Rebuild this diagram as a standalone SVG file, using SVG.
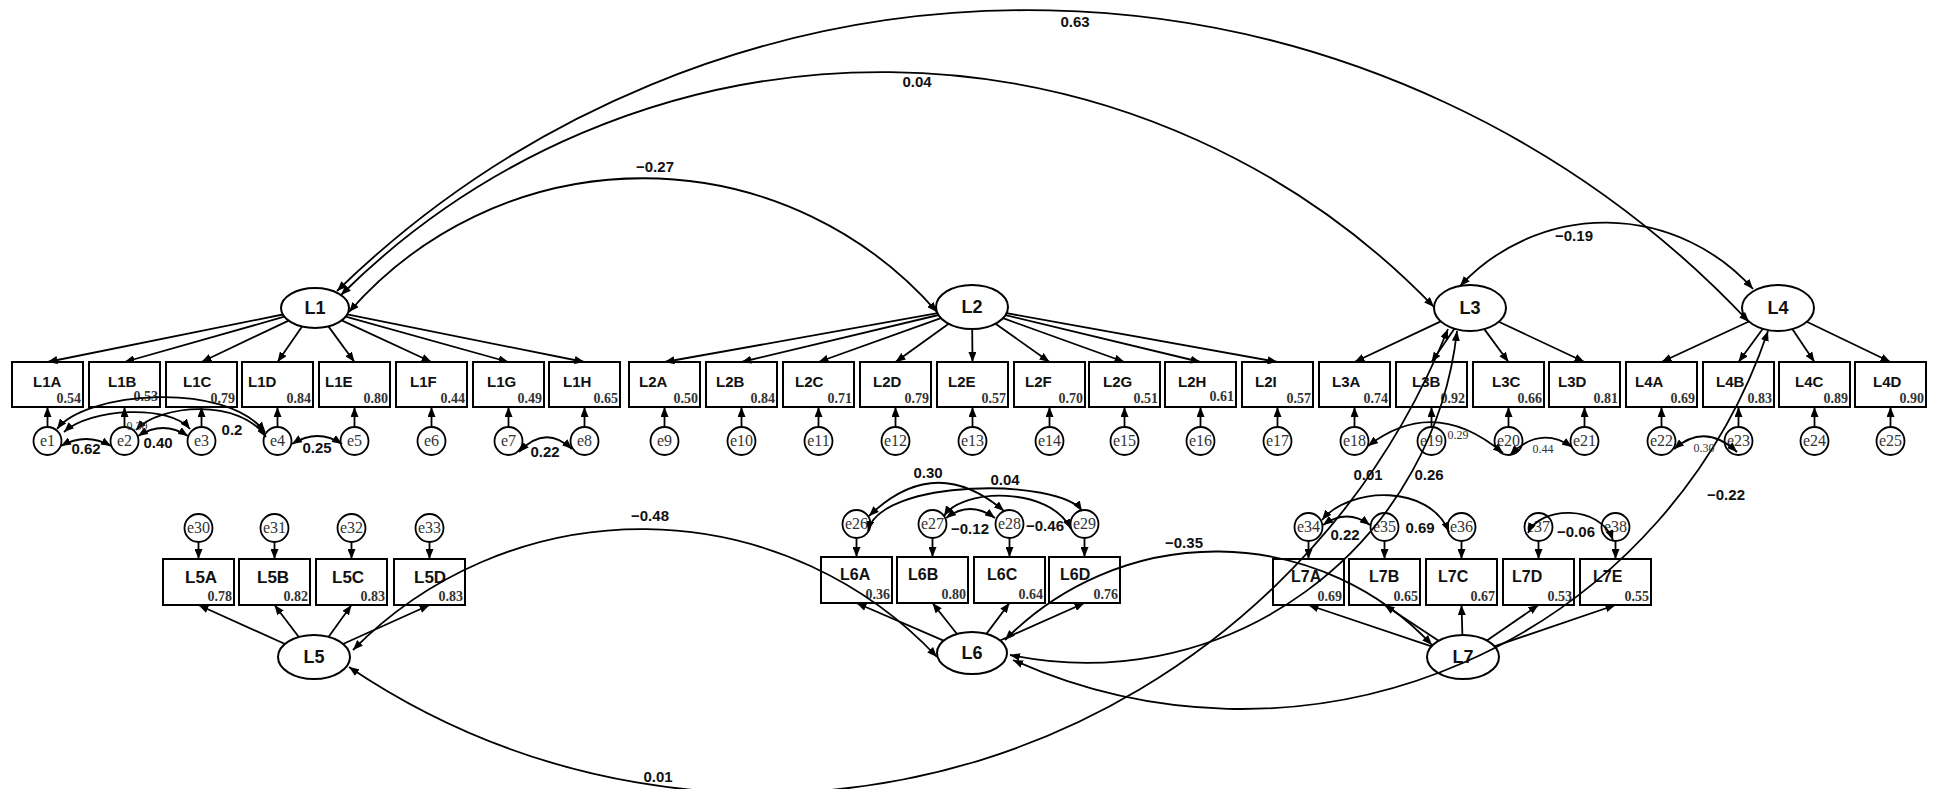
<svg xmlns="http://www.w3.org/2000/svg" width="1937" height="789" viewBox="0 0 1937 789">
<style>
.bx{fill:#fff;stroke:#000;stroke-width:2}
.lv{fill:#fff;stroke:#000;stroke-width:2}
.er{fill:#fff;stroke:#000;stroke-width:1.8}
.t{font-family:"Liberation Sans",Arial,sans-serif;font-weight:bold;font-size:15px;fill:#111}
.t2{font-family:"Liberation Sans",Arial,sans-serif;font-weight:bold;font-size:16px;fill:#111}
.t5{font-family:"Liberation Sans",Arial,sans-serif;font-weight:bold;font-size:17px;fill:#111}
.v{font-family:"Liberation Serif","Times New Roman",serif;font-weight:bold;font-size:14px;fill:#333;text-anchor:end}
.el{font-family:"Liberation Serif","Times New Roman",serif;font-size:16px;fill:#333;text-anchor:middle}
.lt{font-family:"Liberation Sans",Arial,sans-serif;font-weight:bold;font-size:18px;text-anchor:middle;fill:#111}
.c{fill:none;stroke:#000;stroke-width:1.8}
.cl{font-family:"Liberation Sans",Arial,sans-serif;font-weight:bold;font-size:15px;text-anchor:middle;fill:#111}
.sl{font-family:"Liberation Serif","Times New Roman",serif;font-size:12px;fill:#333;text-anchor:middle}
</style>
<defs>
<marker id="ah" viewBox="0 0 10 8" refX="10" refY="4" markerWidth="10" markerHeight="8" markerUnits="userSpaceOnUse" orient="auto-start-reverse"><path d="M0,0 L10,4 L0,8 z" fill="#000"/></marker>
</defs>
<rect width="1937" height="789" fill="#fff"/>

<!-- latent variables -->
<g id="L1"><ellipse class="lv" cx="315" cy="308" rx="34" ry="20"/><text class="lt" x="315" y="314">L1</text></g>
<g id="L2"><ellipse class="lv" cx="972" cy="307" rx="36" ry="22"/><text class="lt" x="972" y="313">L2</text></g>
<g id="L3"><ellipse class="lv" cx="1470" cy="308" rx="36" ry="23"/><text class="lt" x="1470" y="314">L3</text></g>
<g id="L4"><ellipse class="lv" cx="1778" cy="308" rx="36" ry="23"/><text class="lt" x="1778" y="314">L4</text></g>
<g id="L5"><ellipse class="lv" cx="314" cy="657" rx="36" ry="22"/><text class="lt" x="314" y="663">L5</text></g>
<g id="L6"><ellipse class="lv" cx="972" cy="653" rx="35" ry="21"/><text class="lt" x="972" y="659">L6</text></g>
<g id="L7"><ellipse class="lv" cx="1463" cy="657" rx="36" ry="22"/><text class="lt" x="1463" y="663">L7</text></g>

<!-- observed row 1 -->
<g id="L1A"><rect class="bx" x="12" y="362" width="71" height="45"/><text class="t" x="33" y="387">L1A</text><text class="v" x="81" y="403">0.54</text></g>
<g id="L1B"><rect class="bx" x="89" y="362" width="71" height="45"/><text class="t" x="108" y="387">L1B</text><text class="v" x="158" y="401">0.53</text></g>
<g id="L1C"><rect class="bx" x="166" y="362" width="71" height="45"/><text class="t" x="183" y="387">L1C</text><text class="v" x="235" y="403">0.79</text></g>
<g id="L1D"><rect class="bx" x="242" y="362" width="71" height="45"/><text class="t" x="248" y="387">L1D</text><text class="v" x="311" y="403">0.84</text></g>
<g id="L1E"><rect class="bx" x="319" y="362" width="71" height="45"/><text class="t" x="325" y="387">L1E</text><text class="v" x="388" y="403">0.80</text></g>
<g id="L1F"><rect class="bx" x="396" y="362" width="71" height="45"/><text class="t" x="410" y="387">L1F</text><text class="v" x="465" y="403">0.44</text></g>
<g id="L1G"><rect class="bx" x="473" y="362" width="71" height="45"/><text class="t" x="487" y="387">L1G</text><text class="v" x="542" y="403">0.49</text></g>
<g id="L1H"><rect class="bx" x="549" y="362" width="71" height="45"/><text class="t" x="563" y="387">L1H</text><text class="v" x="618" y="403">0.65</text></g>
<g id="L2A"><rect class="bx" x="629" y="362" width="71" height="45"/><text class="t" x="639" y="387">L2A</text><text class="v" x="698" y="403">0.50</text></g>
<g id="L2B"><rect class="bx" x="706" y="362" width="71" height="45"/><text class="t" x="716" y="387">L2B</text><text class="v" x="775" y="403">0.84</text></g>
<g id="L2C"><rect class="bx" x="783" y="362" width="71" height="45"/><text class="t" x="795" y="387">L2C</text><text class="v" x="852" y="403">0.71</text></g>
<g id="L2D"><rect class="bx" x="860" y="362" width="71" height="45"/><text class="t" x="873" y="387">L2D</text><text class="v" x="929" y="403">0.79</text></g>
<g id="L2E"><rect class="bx" x="937" y="362" width="71" height="45"/><text class="t" x="948" y="387">L2E</text><text class="v" x="1006" y="403">0.57</text></g>
<g id="L2F"><rect class="bx" x="1014" y="362" width="71" height="45"/><text class="t" x="1025" y="387">L2F</text><text class="v" x="1083" y="403">0.70</text></g>
<g id="L2G"><rect class="bx" x="1089" y="362" width="71" height="45"/><text class="t" x="1103" y="387">L2G</text><text class="v" x="1158" y="403">0.51</text></g>
<g id="L2H"><rect class="bx" x="1165" y="362" width="71" height="45"/><text class="t" x="1178" y="387">L2H</text><text class="v" x="1234" y="401">0.61</text></g>
<g id="L2I"><rect class="bx" x="1242" y="362" width="71" height="45"/><text class="t" x="1255" y="387">L2I</text><text class="v" x="1311" y="403">0.57</text></g>
<g id="L3A"><rect class="bx" x="1319" y="362" width="71" height="45"/><text class="t" x="1332" y="387">L3A</text><text class="v" x="1388" y="403">0.74</text></g>
<g id="L3B"><rect class="bx" x="1396" y="362" width="71" height="45"/><text class="t" x="1412" y="387">L3B</text><text class="v" x="1465" y="403">0.92</text></g>
<g id="L3C"><rect class="bx" x="1473" y="362" width="71" height="45"/><text class="t" x="1492" y="387">L3C</text><text class="v" x="1542" y="403">0.66</text></g>
<g id="L3D"><rect class="bx" x="1549" y="362" width="71" height="45"/><text class="t" x="1558" y="387">L3D</text><text class="v" x="1618" y="403">0.81</text></g>
<g id="L4A"><rect class="bx" x="1626" y="362" width="71" height="45"/><text class="t" x="1635" y="387">L4A</text><text class="v" x="1695" y="403">0.69</text></g>
<g id="L4B"><rect class="bx" x="1703" y="362" width="71" height="45"/><text class="t" x="1716" y="387">L4B</text><text class="v" x="1772" y="403">0.83</text></g>
<g id="L4C"><rect class="bx" x="1779" y="362" width="71" height="45"/><text class="t" x="1795" y="387">L4C</text><text class="v" x="1848" y="403">0.89</text></g>
<g id="L4D"><rect class="bx" x="1855" y="362" width="71" height="45"/><text class="t" x="1873" y="387">L4D</text><text class="v" x="1924" y="403">0.90</text></g>

<!-- observed row 2 -->
<g id="L5A"><rect class="bx" x="163" y="559" width="71" height="46"/><text class="t5" x="185" y="583">L5A</text><text class="v" x="232" y="601">0.78</text></g>
<g id="L5B"><rect class="bx" x="239" y="559" width="71" height="46"/><text class="t5" x="257" y="583">L5B</text><text class="v" x="308" y="601">0.82</text></g>
<g id="L5C"><rect class="bx" x="316" y="559" width="71" height="46"/><text class="t5" x="332" y="583">L5C</text><text class="v" x="385" y="601">0.83</text></g>
<g id="L5D"><rect class="bx" x="394" y="559" width="71" height="46"/><text class="t5" x="414" y="583">L5D</text><text class="v" x="463" y="601">0.83</text></g>
<g id="L6A"><rect class="bx" x="821" y="557" width="71" height="46"/><text class="t2" x="840" y="580">L6A</text><text class="v" x="890" y="599">0.36</text></g>
<g id="L6B"><rect class="bx" x="897" y="557" width="71" height="46"/><text class="t2" x="908" y="580">L6B</text><text class="v" x="966" y="599">0.80</text></g>
<g id="L6C"><rect class="bx" x="974" y="557" width="71" height="46"/><text class="t2" x="987" y="580">L6C</text><text class="v" x="1043" y="599">0.64</text></g>
<g id="L6D"><rect class="bx" x="1049" y="557" width="71" height="46"/><text class="t2" x="1060" y="580">L6D</text><text class="v" x="1118" y="599">0.76</text></g>
<g id="L7A"><rect class="bx" x="1273" y="559" width="71" height="46"/><text class="t2" x="1291" y="582">L7A</text><text class="v" x="1342" y="601">0.69</text></g>
<g id="L7B"><rect class="bx" x="1349" y="559" width="71" height="46"/><text class="t2" x="1369" y="582">L7B</text><text class="v" x="1418" y="601">0.65</text></g>
<g id="L7C"><rect class="bx" x="1426" y="559" width="71" height="46"/><text class="t2" x="1438" y="582">L7C</text><text class="v" x="1495" y="601">0.67</text></g>
<g id="L7D"><rect class="bx" x="1503" y="559" width="71" height="46"/><text class="t2" x="1512" y="582">L7D</text><text class="v" x="1572" y="601">0.53</text></g>
<g id="L7E"><rect class="bx" x="1580" y="559" width="71" height="46"/><text class="t2" x="1593" y="582">L7E</text><text class="v" x="1649" y="601">0.55</text></g>

<!-- error terms row 1 -->
<g id="e1"><circle class="er" cx="47.5" cy="441" r="14"/><text class="el" x="47.5" y="446">e1</text></g>
<g id="e2"><circle class="er" cx="124.5" cy="441" r="14"/><text class="el" x="124.5" y="446">e2</text></g>
<g id="e3"><circle class="er" cx="201.5" cy="441" r="14"/><text class="el" x="201.5" y="446">e3</text></g>
<g id="e4"><circle class="er" cx="277.5" cy="441" r="14"/><text class="el" x="277.5" y="446">e4</text></g>
<g id="e5"><circle class="er" cx="354.5" cy="441" r="14"/><text class="el" x="354.5" y="446">e5</text></g>
<g id="e6"><circle class="er" cx="431.5" cy="441" r="14"/><text class="el" x="431.5" y="446">e6</text></g>
<g id="e7"><circle class="er" cx="508.5" cy="441" r="14"/><text class="el" x="508.5" y="446">e7</text></g>
<g id="e8"><circle class="er" cx="584.5" cy="441" r="14"/><text class="el" x="584.5" y="446">e8</text></g>
<g id="e9"><circle class="er" cx="664.5" cy="441" r="14"/><text class="el" x="664.5" y="446">e9</text></g>
<g id="e10"><circle class="er" cx="741.5" cy="441" r="14"/><text class="el" x="741.5" y="446">e10</text></g>
<g id="e11"><circle class="er" cx="818.5" cy="441" r="14"/><text class="el" x="818.5" y="446">e11</text></g>
<g id="e12"><circle class="er" cx="895.5" cy="441" r="14"/><text class="el" x="895.5" y="446">e12</text></g>
<g id="e13"><circle class="er" cx="972.5" cy="441" r="14"/><text class="el" x="972.5" y="446">e13</text></g>
<g id="e14"><circle class="er" cx="1049.5" cy="441" r="14"/><text class="el" x="1049.5" y="446">e14</text></g>
<g id="e15"><circle class="er" cx="1124.5" cy="441" r="14"/><text class="el" x="1124.5" y="446">e15</text></g>
<g id="e16"><circle class="er" cx="1200.5" cy="441" r="14"/><text class="el" x="1200.5" y="446">e16</text></g>
<g id="e17"><circle class="er" cx="1277.5" cy="441" r="14"/><text class="el" x="1277.5" y="446">e17</text></g>
<g id="e18"><circle class="er" cx="1354.5" cy="441" r="14"/><text class="el" x="1354.5" y="446">e18</text></g>
<g id="e19"><circle class="er" cx="1431.5" cy="441" r="14"/><text class="el" x="1431.5" y="446">e19</text></g>
<g id="e20"><circle class="er" cx="1508.5" cy="441" r="14"/><text class="el" x="1508.5" y="446">e20</text></g>
<g id="e21"><circle class="er" cx="1584.5" cy="441" r="14"/><text class="el" x="1584.5" y="446">e21</text></g>
<g id="e22"><circle class="er" cx="1661.5" cy="441" r="14"/><text class="el" x="1661.5" y="446">e22</text></g>
<g id="e23"><circle class="er" cx="1738.5" cy="441" r="14"/><text class="el" x="1738.5" y="446">e23</text></g>
<g id="e24"><circle class="er" cx="1814.5" cy="441" r="14"/><text class="el" x="1814.5" y="446">e24</text></g>
<g id="e25"><circle class="er" cx="1890.5" cy="441" r="14"/><text class="el" x="1890.5" y="446">e25</text></g>

<!-- error terms row 2 -->
<g id="e26"><circle class="er" cx="856.5" cy="524" r="14"/><text class="el" x="856.5" y="529">e26</text></g>
<g id="e27"><circle class="er" cx="932.5" cy="524" r="14"/><text class="el" x="932.5" y="529">e27</text></g>
<g id="e28"><circle class="er" cx="1009.5" cy="524" r="14"/><text class="el" x="1009.5" y="529">e28</text></g>
<g id="e29"><circle class="er" cx="1084.5" cy="524" r="14"/><text class="el" x="1084.5" y="529">e29</text></g>
<g id="e30"><circle class="er" cx="198.5" cy="528" r="14"/><text class="el" x="198.5" y="533">e30</text></g>
<g id="e31"><circle class="er" cx="274.5" cy="528" r="14"/><text class="el" x="274.5" y="533">e31</text></g>
<g id="e32"><circle class="er" cx="351.5" cy="528" r="14"/><text class="el" x="351.5" y="533">e32</text></g>
<g id="e33"><circle class="er" cx="429.5" cy="528" r="14"/><text class="el" x="429.5" y="533">e33</text></g>
<g id="e34"><circle class="er" cx="1308.5" cy="527" r="14"/><text class="el" x="1308.5" y="532">e34</text></g>
<g id="e35"><circle class="er" cx="1384.5" cy="527" r="14"/><text class="el" x="1384.5" y="532">e35</text></g>
<g id="e36"><circle class="er" cx="1461.5" cy="527" r="14"/><text class="el" x="1461.5" y="532">e36</text></g>
<g id="e37"><circle class="er" cx="1538.5" cy="527" r="14"/><text class="el" x="1538.5" y="532">e37</text></g>
<g id="e38"><circle class="er" cx="1615.5" cy="527" r="14"/><text class="el" x="1615.5" y="532">e38</text></g>

<g id="connectors">
<!-- loadings -->
<g class="c" marker-end="url(#ah)">
<path d="M282.8,314.5 L47.5,362"/><path d="M284.4,316.7 L124.5,362"/><path d="M288.6,320.6 L201.5,362"/><path d="M302.1,326.5 L277.5,362"/><path d="M328.4,326.4 L354.5,362"/><path d="M341.7,320.4 L431.5,362"/><path d="M345.7,316.6 L508.5,362"/><path d="M347.2,314.4 L584.5,362"/>
<path d="M937.5,313.2 L664.5,362"/><path d="M938.5,315 L741.5,362"/><path d="M940.9,318.1 L818.5,362"/><path d="M948.7,323.8 L895.5,362"/><path d="M972.2,329 L972.5,362"/><path d="M995.5,323.7 L1049.5,362"/><path d="M1003,318.2 L1124.5,362"/><path d="M1005.5,315.1 L1200.5,362"/><path d="M1006.5,313.2 L1277.5,362"/>
<path d="M1440.8,321.4 L1354.5,362"/><path d="M1454.4,328.7 L1431.5,362"/><path d="M1484.3,329.1 L1508.5,362"/><path d="M1498.8,321.8 L1584.5,362"/>
<path d="M1748.9,321.5 L1661.5,362"/><path d="M1762.8,328.8 L1738.5,362"/><path d="M1792.3,329.1 L1814.5,362"/><path d="M1806.8,321.8 L1890.5,362"/>
<path d="M285,644 L198.5,605"/><path d="M298.8,637 L274.5,605"/><path d="M328.5,637 L351.5,605"/><path d="M343,644 L429.5,605"/>
<path d="M943.6,640.7 L856.5,603"/><path d="M957,634 L932.5,603"/><path d="M986.4,633.9 L1009.5,603"/><path d="M1000.1,640.5 L1084.5,603"/>
<path d="M1431.5,646.4 L1308.5,605"/><path d="M1438.6,640.8 L1384.5,605"/><path d="M1462.4,635 L1461.5,605"/><path d="M1486.9,640.5 L1538.5,605"/><path d="M1494.4,646.3 L1615.5,605"/>
</g>
<!-- error paths -->
<g class="c" marker-end="url(#ah)">
<path d="M47.5,427 V407"/><path d="M124.5,427 V407"/><path d="M201.5,427 V407"/><path d="M277.5,427 V407"/><path d="M354.5,427 V407"/><path d="M431.5,427 V407"/><path d="M508.5,427 V407"/><path d="M584.5,427 V407"/><path d="M664.5,427 V407"/><path d="M741.5,427 V407"/><path d="M818.5,427 V407"/><path d="M895.5,427 V407"/><path d="M972.5,427 V407"/><path d="M1049.5,427 V407"/><path d="M1124.5,427 V407"/><path d="M1200.5,427 V407"/><path d="M1277.5,427 V407"/><path d="M1354.5,427 V407"/><path d="M1431.5,427 V407"/><path d="M1508.5,427 V407"/><path d="M1584.5,427 V407"/><path d="M1661.5,427 V407"/><path d="M1738.5,427 V407"/><path d="M1814.5,427 V407"/><path d="M1890.5,427 V407"/>
<path d="M198.5,542 V559"/><path d="M274.5,542 V559"/><path d="M351.5,542 V559"/><path d="M429.5,542 V559"/>
<path d="M856.5,538 V557"/><path d="M932.5,538 V557"/><path d="M1009.5,538 V557"/><path d="M1084.5,538 V557"/>
<path d="M1308.5,541 V559"/><path d="M1384.5,541 V559"/><path d="M1461.5,541 V559"/><path d="M1538.5,541 V559"/><path d="M1615.5,541 V559"/>
</g>
<!-- covariances between latents -->
<g class="c" marker-start="url(#ah)" marker-end="url(#ah)">
<path d="M337,291 A990,990 0 0 1 1749,322"/>
<path d="M341,295 A767,767 0 0 1 1434,307"/>
<path d="M349,312 A390,390 0 0 1 937,312"/>
<path d="M1460,286 A198,198 0 0 1 1753,289"/>
<path d="M1448,329 A739,739 0 0 1 349,667"/>
<path d="M1457,331 A373,373 0 0 1 1010,655"/>
<path d="M1768,331 A556,556 0 0 1 1013,660"/>
<path d="M1005,640 A296,296 0 0 1 1432,645"/>
<path d="M353,650 A405,405 0 0 1 937,657"/>
</g>
<!-- covariances between errors -->
<g class="c" marker-start="url(#ah)" marker-end="url(#ah)">
<path d="M61,446 Q86,432 111,446"/>
<path d="M138,436 Q163,420 188,436"/>
<path d="M64,432 C90,408 170,404 190,429"/>
<path d="M57,429 C85,392 225,380 265,432"/>
<path d="M136,430 C160,404 240,398 266,437"/>
<path d="M292,444 Q318,428 342,444"/>
<path d="M519,452 Q545,424 572,449"/>
<path d="M1368,446 Q1434,395 1503,453"/>
<path d="M1510,455 Q1540,425 1572,447"/>
<path d="M1674,449 Q1705,422 1737,452"/>
<path d="M869,516 Q935,452 1004,511"/>
<path d="M868,531 C880,478 1060,478 1082,511"/>
<path d="M946,518 Q970,500 995,518"/>
<path d="M944,516 C962,488 1050,486 1071,529"/>
<path d="M1323,525 Q1347,508 1370,525"/>
<path d="M1322,520 C1350,486 1430,484 1449,532"/>
<path d="M1528,533 C1540,506 1600,504 1613,540"/>
</g>
<!-- labels -->
<text class="cl" x="1075" y="27">0.63</text>
<text class="cl" x="917" y="87">0.04</text>
<text class="cl" x="655" y="172">−0.27</text>
<text class="cl" x="1574" y="241">−0.19</text>
<text class="cl" x="658" y="782">0.01</text>
<text class="cl" x="1368" y="480">0.01</text>
<text class="cl" x="1429" y="480">0.26</text>
<text class="cl" x="1726" y="500">−0.22</text>
<text class="cl" x="650" y="521">−0.48</text>
<text class="cl" x="1184" y="548">−0.35</text>
<text class="cl" x="86" y="454">0.62</text>
<text class="cl" x="158" y="448">0.40</text>
<text class="cl" x="232" y="435">0.2</text>
<text class="cl" x="317" y="453">0.25</text>
<text class="cl" x="545" y="457">0.22</text>
<text class="sl" x="137" y="430">0.30</text>
<text class="sl" x="1458" y="439">0.29</text>
<text class="sl" x="1543" y="453">0.44</text>
<text class="sl" x="1704" y="452">0.30</text>
<text class="cl" x="928" y="478">0.30</text>
<text class="cl" x="1005" y="485">0.04</text>
<text class="cl" x="970" y="534">−0.12</text>
<text class="cl" x="1045" y="531">−0.46</text>
<text class="cl" x="1345" y="540">0.22</text>
<text class="cl" x="1420" y="533">0.69</text>
<text class="cl" x="1576" y="537">−0.06</text>
</g>
</svg>
